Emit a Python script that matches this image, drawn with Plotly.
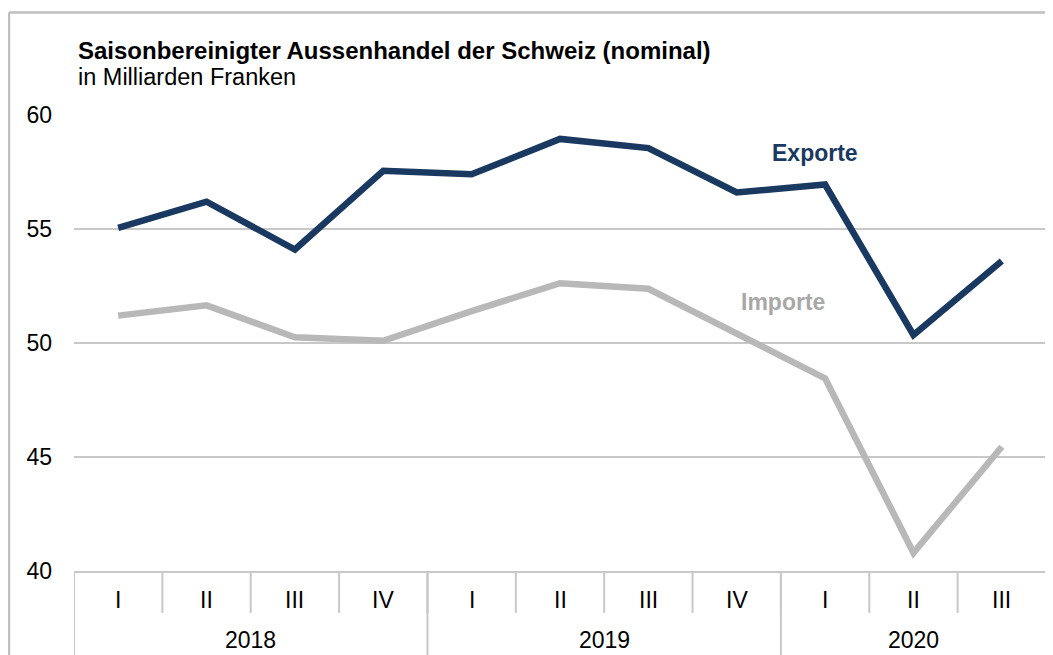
import plotly.graph_objects as go

quarters = ["I", "II", "III", "IV", "I", "II", "III", "IV", "I", "II", "III"]
years = ["2018", "2019", "2020"]
year_quarter_counts = [4, 4, 3]
exporte = [55.05, 56.2, 54.1, 57.55, 57.4, 58.95, 58.55, 56.6, 56.95, 50.35, 53.6]
importe = [51.2, 51.65, 50.25, 50.1, 51.4, 52.62, 52.38, 50.45, 48.45, 40.8, 45.45]
y_ticks = [40, 45, 50, 55, 60]

x = list(range(len(quarters)))
FONT = "Liberation Sans, Arial, sans-serif"
EXP_COLOR = "#1a3961"
IMP_COLOR = "#b8b8b8"
GRID = "#c8c8c8"

fig = go.Figure()
fig.add_trace(go.Scatter(x=x, y=importe, mode="lines", name="Importe",
                         line=dict(color=IMP_COLOR, width=6.5), hoverinfo="y"))
fig.add_trace(go.Scatter(x=x, y=exporte, mode="lines", name="Exporte",
                         line=dict(color=EXP_COLOR, width=6.5), hoverinfo="y"))

shapes = []
for i in range(len(quarters) + 1):
    boundary = i - 0.5
    shapes.append(dict(type="line", xref="x", yref="paper", x0=boundary, x1=boundary,
                       y0=0, y1=-0.092, line=dict(color=GRID, width=2)))
pos = 0
year_bounds = [0]
for c in year_quarter_counts:
    pos += c
    year_bounds.append(pos)
for b in year_bounds:
    shapes.append(dict(type="line", xref="x", yref="paper", x0=b - 0.5, x1=b - 0.5,
                       y0=0, y1=-0.25, line=dict(color=GRID, width=2)))
# outer frame (left and top)
shapes.append(dict(type="line", xref="paper", yref="paper", x0=-0.0669, x1=-0.0669,
                   y0=-0.25, y1=1.2248, line=dict(color="#bfbfbf", width=2.5)))
shapes.append(dict(type="line", xref="paper", yref="paper", x0=-0.0669, x1=1.02,
                   y0=1.2248, y1=1.2248, line=dict(color="#bfbfbf", width=2.5)))

annotations = []
for i, q in enumerate(quarters):
    annotations.append(dict(x=i, y=-0.0636, xref="x", yref="paper", text=q, showarrow=False,
                            xanchor="center", yanchor="middle",
                            font=dict(size=23, color="#000000", family=FONT)))
for k, yr in enumerate(years):
    center = (year_bounds[k] + year_bounds[k + 1] - 1) / 2
    annotations.append(dict(x=center, y=-0.151, xref="x", yref="paper", text=yr, showarrow=False,
                            xanchor="center", yanchor="middle",
                            font=dict(size=23, color="#000000", family=FONT)))
annotations.append(dict(x=7.886, y=58.33, xref="x", yref="y", text="<b>Exporte</b>", showarrow=False,
                        xanchor="center", yanchor="middle",
                        font=dict(size=23, color=EXP_COLOR, family=FONT)))
annotations.append(dict(x=7.524, y=51.8, xref="x", yref="y", text="<b>Importe</b>", showarrow=False,
                        xanchor="center", yanchor="middle",
                        font=dict(size=23, color="#a8a8a8", family=FONT)))
annotations.append(dict(x=0.002, y=1.1425, xref="paper", yref="paper", xanchor="left", yanchor="middle",
                        text="<b>Saisonbereinigter Aussenhandel der Schweiz (nominal)</b>",
                        showarrow=False, font=dict(size=24, color="#000000", family=FONT)))
annotations.append(dict(x=0.002, y=1.0833, xref="paper", yref="paper", xanchor="left", yanchor="middle",
                        text="in Milliarden Franken",
                        showarrow=False, font=dict(size=23.5, color="#000000", family=FONT)))

fig.update_layout(
    width=1053, height=655,
    margin=dict(l=66, r=15, t=107, b=92, pad=0),
    paper_bgcolor="white", plot_bgcolor="white",
    showlegend=False,
    shapes=shapes, annotations=annotations,
    xaxis=dict(range=[-0.5, len(quarters) - 0.5], showticklabels=False, showgrid=False,
               zeroline=False, showline=True, linecolor=GRID, linewidth=2, ticks="", fixedrange=True),
    yaxis=dict(range=[40, 60], tickvals=y_ticks, showgrid=True, gridcolor=GRID, gridwidth=2,
               zeroline=False, showline=False, ticks="", ticklabelstandoff=21,
               tickfont=dict(size=23, color="#000000", family=FONT), fixedrange=True),
    font=dict(family=FONT),
)

fig.write_html("out.html")
